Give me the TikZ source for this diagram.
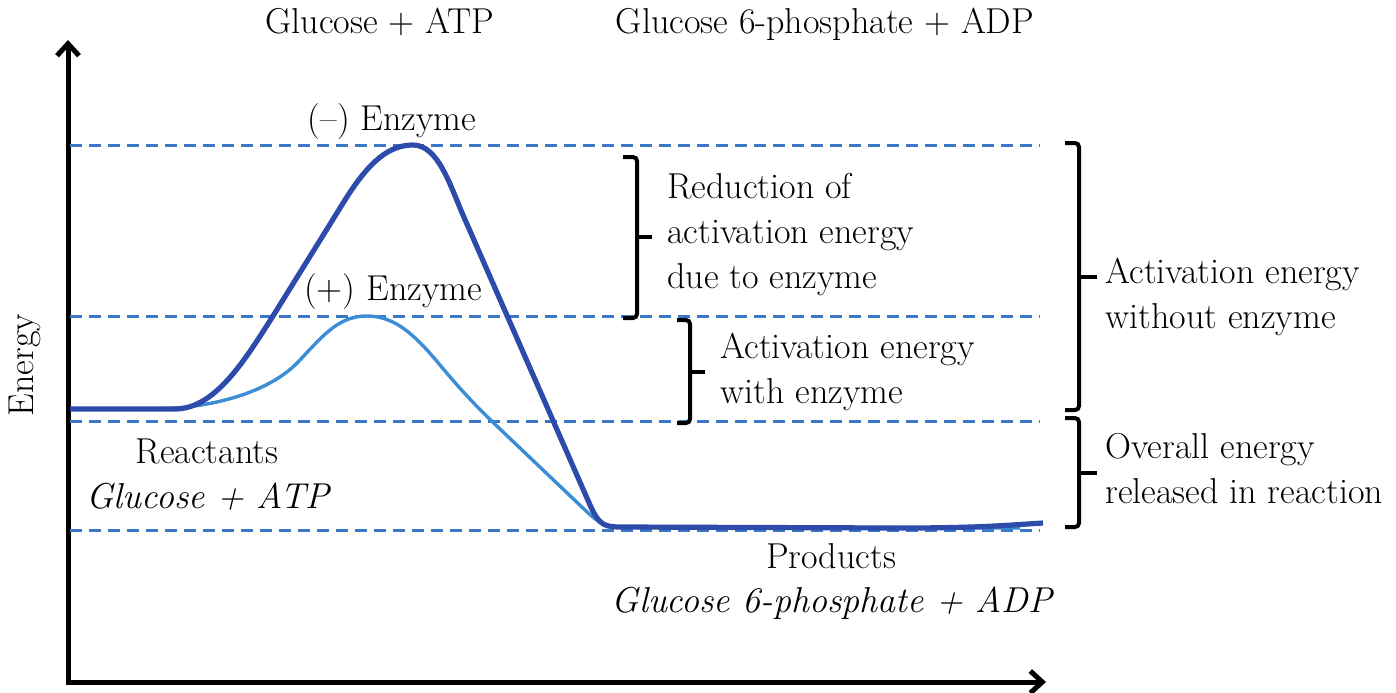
\documentclass[tikz,border=0pt]{standalone}
\usepackage{fontspec}
\usetikzlibrary{arrows.meta}
\definecolor{dashblue}{HTML}{3A78C6}
\definecolor{darkcurve}{HTML}{2D4BAA}
\definecolor{lightcurve}{HTML}{3C8CD6}
\tikzset{
  lbl/.style={inner sep=0pt, font=\fontsize{18}{22.5}\selectfont},
  level/.style={draw=dashblue, line width=1.5pt, dash pattern=on 6pt off 3.5pt},
  axis/.style={line width=2.5pt, -{Straight Barb[length=6pt,width=11pt]}},
  bracket/.style={line width=2pt, rounded corners=2pt},
}
\begin{document}
\begin{tikzpicture}[x=0.5pt,y=-0.5pt]
\useasboundingbox (0,0) rectangle (1396,692);
% axes
\coordinate (origin) at (68,682);
\coordinate (ytop) at (68,40);
\coordinate (xend) at (1046,682);
\draw[axis] (origin) -- (ytop);
\draw[axis] ([xshift=-1.25pt]origin) -- (xend);
% dashed levels
\draw[level] (70,145) -- (1040,145);
\draw[level] (70,316) -- (1040,316);
\draw[level] (70,421) -- (1040,421);
\draw[level] (70,530) -- (1040,530);
% (+) enzyme curve
\draw[lightcurve, line width=1.7pt] (70,409) -- (150,409)
  .. controls (210,409) and (270,393) .. (300,360)
  .. controls (325,333) and (340,316) .. (367,316)
  .. controls (395,316) and (415,335) .. (440,365)
  .. controls (465,395) and (480,410) .. (500,429)
  -- (585,510) .. controls (600,524) and (605,527) .. (625,527)
  -- (1020,528);
% (-) enzyme curve
\draw[darkcurve, line width=2.6pt] (70,409) -- (175,409)
  .. controls (215,409) and (245,360) .. (273,316)
  -- (345,200) .. controls (370,160) and (390,145) .. (413,145)
  .. controls (438,145) and (450,185) .. (463,215)
  -- (590,505) .. controls (600,527) and (605,527) .. (625,527)
  -- (900,528) .. controls (980,528) and (1010,525) .. (1043,523);
% brackets
\draw[bracket] (623,157) -- (637,157) -- (637,318) -- (623,318);
\draw[bracket] (637,237) -- (652,237);
\draw[bracket] (677,320) -- (690,320) -- (690,423) -- (677,423);
\draw[bracket] (690,372) -- (705,372);
\draw[bracket] (1065,143) -- (1079,143) -- (1079,410) -- (1065,410);
\draw[bracket] (1079,277) -- (1097,277);
\draw[bracket] (1065,418) -- (1079,418) -- (1079,527) -- (1065,527);
\draw[bracket] (1079,473) -- (1097,473);
% labels
\node[lbl, anchor=base] (top1) at (380,33) {Glucose + ATP};
\node[lbl, anchor=base] (top2) at (825,33) {Glucose 6-phosphate + ADP};
\node[lbl, anchor=base] (minus) at (392,130) {(--) Enzyme};
\node[lbl, anchor=base] (plus) at (393,300) {(+) Enzyme};
\node[lbl, anchor=base, rotate=90] (energy) at (33,365) {Energy};
\node[lbl, anchor=base] (react) at (207,463) {Reactants};
\node[lbl, anchor=base] (reactit) at (208,508) {\itshape Glucose + ATP};
\node[lbl, anchor=base] (prod) at (831,568) {Products};
\node[lbl, anchor=base] (prodit) at (832,612) {\itshape Glucose 6-phosphate + ADP};
\node[lbl, anchor=base west, align=left] (reduct) at (667,288) {Reduction of\\activation energy\\due to enzyme};
\node[lbl, anchor=base west, align=left] (aewith) at (720,403) {Activation energy\\with enzyme};
\node[lbl, anchor=base west, align=left] (aewithout) at (1105,328) {Activation energy\\without enzyme};
\node[lbl, anchor=base west, align=left] (overall) at (1105,503) {Overall energy\\released in reaction};
\end{tikzpicture}
\end{document}
